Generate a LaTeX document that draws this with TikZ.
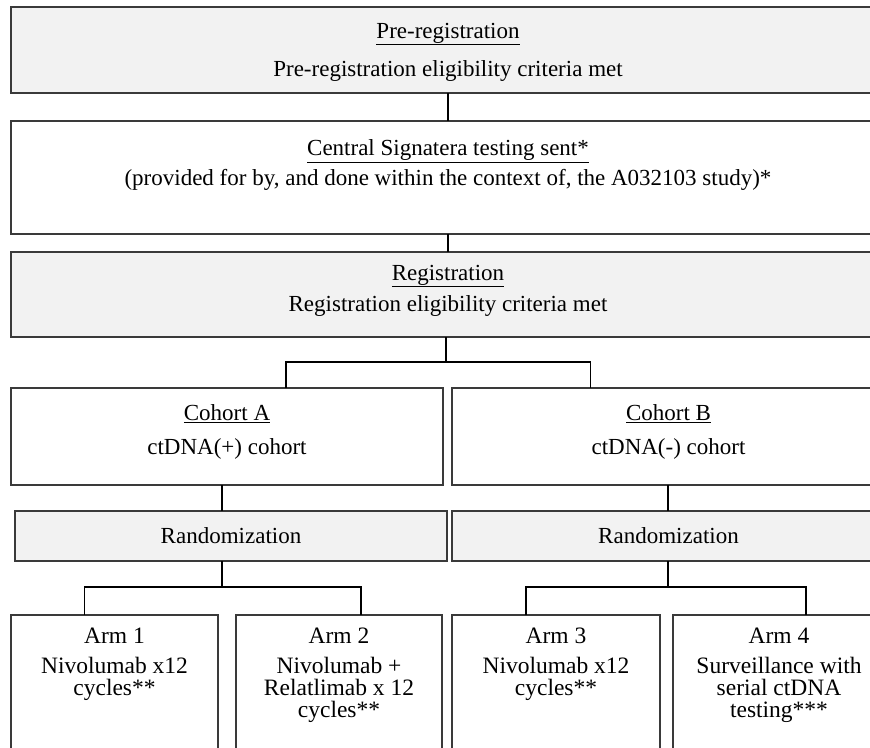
\documentclass[tikz,border=0pt]{standalone}
\usepackage{fontspec}
\setmainfont{Liberation Serif}
\usetikzlibrary{positioning}

\definecolor{panel}{HTML}{F2F2F2}
\definecolor{rim}{HTML}{3A3A3A}

\begin{document}
\begin{tikzpicture}[
    x=1pt, y=-1pt,
    every node/.style={align=center, inner sep=0pt, outer sep=0pt,
        font=\fontsize{23}{22}\selectfont},
    stage/.style={draw=rim, line width=2pt, anchor=north west},
    grey/.style={stage, fill=panel},
    armtext/.style={font=\fontsize{23.5}{22}\selectfont},
    link/.style={line width=1.6pt},
]
\path[use as bounding box, clip] (0,0) rectangle (870,747);

% full-width stages, right edges run off the page
\node[grey, minimum width=874pt, minimum height=86pt] (prereg) at (11,7) {};
\node[stage, minimum width=874pt, minimum height=113pt] (signatera) at (11,121) {};
\node[grey, minimum width=874pt, minimum height=85pt] (reg) at (11,252) {};

% cohorts and randomization
\node[stage, minimum width=432pt, minimum height=97pt] (cohA) at (11,388) {};
\node[stage, minimum width=433pt, minimum height=97pt] (cohB) at (452,388) {};
\node[grey, minimum width=432pt, minimum height=50pt] (randA) at (15,511) {};
\node[grey, minimum width=433pt, minimum height=50pt] (randB) at (452,511) {};

% arms, bottoms run off the page
\node[stage, minimum width=207pt, minimum height=150pt] (arm1) at (11,615) {};
\node[stage, minimum width=206pt, minimum height=150pt] (arm2) at (236,615) {};
\node[stage, minimum width=208pt, minimum height=150pt] (arm3) at (452,615) {};
\node[stage, minimum width=212pt, minimum height=150pt] (arm4) at (673,615) {};

% texts
\node[below=16pt of prereg.north] (preregT)
    {\underline{Pre-registration}\\[14pt]Pre-registration eligibility criteria met};
\node[below=19pt of signatera.north] (signateraT)
    {\underline{Central Signatera testing sent*}\\[5pt](provided for by, and done within the context of, the A032103 study)*};
\node[below=13pt of reg.north] (regT)
    {\underline{Registration}\\[7pt]Registration eligibility criteria met};
\node[below=17pt of cohA.north] (cohAT) {\underline{Cohort A}\\[12pt]ctDNA(+) cohort};
\node[below=17pt of cohB.north] (cohBT) {\underline{Cohort B}\\[12pt]ctDNA(-) cohort};
\node at (randA) (randAT) {Randomization};
\node at (randB) (randBT) {Randomization};
\node[armtext, below=13pt of arm1.north] (arm1T) {Arm 1\\[8pt]Nivolumab x12\\cycles**};
\node[armtext, below=13pt of arm2.north] (arm2T) {Arm 2\\[8pt]Nivolumab +\\Relatlimab x 12\\cycles**};
\node[armtext, below=13pt of arm3.north] (arm3T) {Arm 3\\[8pt]Nivolumab x12\\cycles**};
\node[armtext, below=13pt of arm4.north] (arm4T) {Arm 4\\[8pt]Surveillance with\\serial ctDNA\\testing***};

% connectors
\coordinate (regfork) at (446,362);
\coordinate (forkA) at (222,587);
\coordinate (forkB) at (668,587);
\draw[link] (prereg.south) -- (signatera.north);
\draw[link] (signatera.south) -- (reg.north);
\draw[link] (reg.south -| regfork) -- (regfork);
\draw[link] ([xshift=59pt]cohA.north) |- (regfork) -| ([xshift=-78pt]cohB.north);
\draw[link] (cohA.south -| forkA) -- (randA.north -| forkA);
\draw[link] (cohB.south -| forkB) -- (randB.north -| forkB);
\draw[link] (randA.south -| forkA) -- (forkA);
\draw[link] (randB.south -| forkB) -- (forkB);
\draw[link] ([xshift=-30pt]arm1.north) |- (forkA) -| ([xshift=22pt]arm2.north);
\draw[link] ([xshift=-30pt]arm3.north) |- (forkB) -| ([xshift=27pt]arm4.north);
\end{tikzpicture}
\end{document}
